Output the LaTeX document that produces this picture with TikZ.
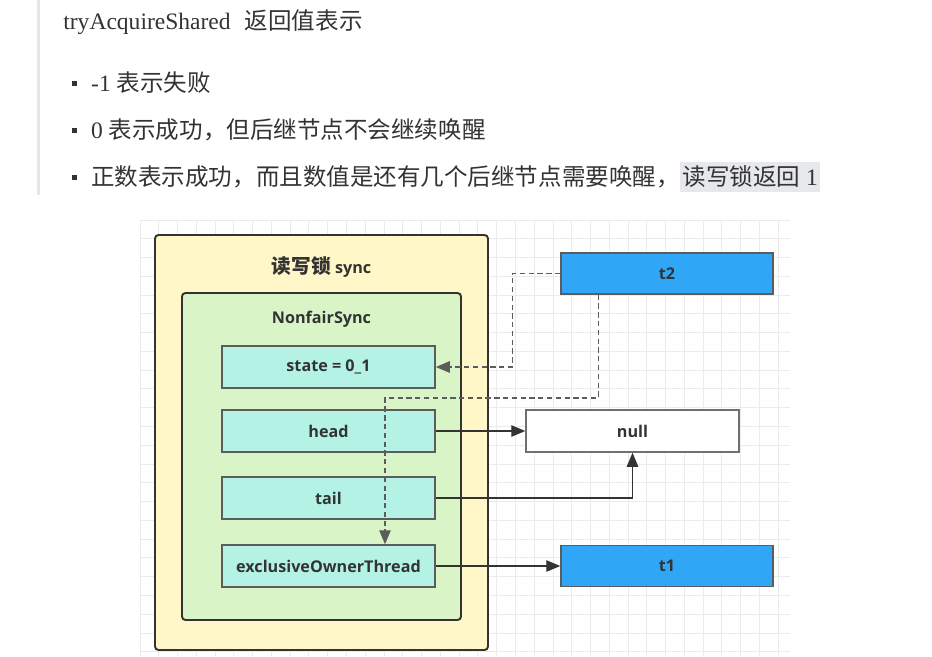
\documentclass[tikz,border=0pt]{standalone}
\usepackage{fontspec}
\usepackage{xcolor}
\usepackage{tikz}
\usetikzlibrary{arrows.meta,positioning,calc}

\setmainfont{Liberation Serif}
\newfontfamily\cjk{Noto Sans CJK SC}
\newfontfamily\diag{Open Sans}

\newlength\pu
\setlength\pu{0.02cm}

\definecolor{ink}{HTML}{333333}
\definecolor{quotebar}{HTML}{E6E6E6}
\definecolor{hilite}{HTML}{E6E8EC}
\definecolor{gridcol}{HTML}{EBEBEB}
\definecolor{syncfill}{HTML}{FFF7C8}
\definecolor{nfsfill}{HTML}{D9F5C8}
\definecolor{fieldfill}{HTML}{B4F2E6}
\definecolor{threadfill}{HTML}{2FA6F6}

\begin{document}
\begin{tikzpicture}[
  x=\pu, y=-\pu,
  htext/.style={font=\fontsize{13.4}{16}\selectfont, text=ink, inner sep=0pt, anchor=west},
  bullet/.style={rectangle, fill=ink, minimum size=5\pu, inner sep=0pt},
  dlabel/.style={font=\diag\bfseries\fontsize{9.2}{11}\selectfont, text=ink},
  syncbox/.style={rectangle, rounded corners=2pt, draw=ink, line width=1.1pt, fill=syncfill, minimum width=333\pu, minimum height=415\pu},
  nfsbox/.style={rectangle, rounded corners=2pt, draw=ink, line width=1.1pt, fill=nfsfill, minimum width=279\pu, minimum height=327\pu},
  field/.style={rectangle, draw=ink!80, line width=0.8pt, fill=fieldfill, minimum width=213\pu, minimum height=42\pu, dlabel},
  thread/.style={rectangle, draw=ink!80, line width=0.8pt, fill=threadfill, minimum width=212\pu, minimum height=41\pu, dlabel},
  nullbox/.style={rectangle, draw=ink!70, line width=0.8pt, fill=white, minimum width=213\pu, minimum height=42\pu, dlabel},
  link/.style={draw=ink, line width=0.8pt, -{Triangle[length=8pt, width=6.5pt]}},
  dlink/.style={link, draw=ink!80, dash pattern=on 3pt off 2pt}
]
  \useasboundingbox (0,0) rectangle (932,656);

  % quote bar and header text
  \fill[quotebar] (36.5,0) rectangle (39.5,195);
  \node[htext] (title) at (63,22) {tryAcquireShared\hspace{0.6em}{\cjk 返回值表示}};

  \node[bullet] (m1) at (74,83) {};
  \node[bullet] (m2) at (74,130) {};
  \node[bullet] (m3) at (74,177) {};

  \node[htext, right=14\pu of m1] (b1) {-1 {\cjk 表示失败}};
  \node[htext, right=14\pu of m2] (b2) {0 {\cjk 表示成功，但后继节点不会继续唤醒}};
  \node[htext, right=14\pu of m3] (b3) {{\cjk 正数表示成功，而且数值是还有几个后继节点需要唤醒，}};
  \node[htext, anchor=base west, fill=hilite, inner xsep=2\pu, inner ysep=4\pu] (b3h) at (b3.base east) {{\cjk 读写锁返回} 1};

  % grid paper
  \foreach \k in {0,...,34}
    \draw[gridcol, line width=0.5pt] (140+\k*18.77,220) -- (140+\k*18.77,656);
  \foreach \k in {0,...,23}
    \draw[gridcol, line width=0.5pt] (140,220+\k*18.77) -- (790,220+\k*18.77);

  % sync object (left)
  \node[syncbox] (sync) at (321.5,442.5) {};
  \node[dlabel] (synctitle) at (321.5,267) {{\cjk\bfseries\fontsize{11.2}{13}\selectfont 读写锁} sync};
  \node[nfsbox] (nfs) at (321.5,456.5) {};
  \node[dlabel] (nfstitle) at (321.5,319) {NonfairSync};

  \node[field] (state) at (328.5,367) {state = 0\_1};
  \node[field] (head) at (328.5,431) {head};
  \node[field] (tail) at (328.5,498) {tail};
  \node[field] (eot) at (328.5,566) {exclusiveOwnerThread};

  % threads and null (right)
  \node[thread] (t2) at (667,273.5) {t2};
  \node[nullbox] (null) at (632.5,431) {null};
  \node[thread] (t1) at (667,566) {t1};

  % references
  \draw[link] (head.east) -- (head.east -| null.west);
  \draw[link] (tail.east) -| (null.south);
  \draw[link] (eot.east) -- (eot.east -| t1.west);

  % t2 waiting (dashed)
  \coordinate (bend) at (385,398);
  \draw[dlink] (t2.west) -- ++(-48,0) |- (state.east);
  \draw[dlink] ([xshift=38\pu]t2.south west) |- (bend) -- (bend |- eot.north);
\end{tikzpicture}
\end{document}
